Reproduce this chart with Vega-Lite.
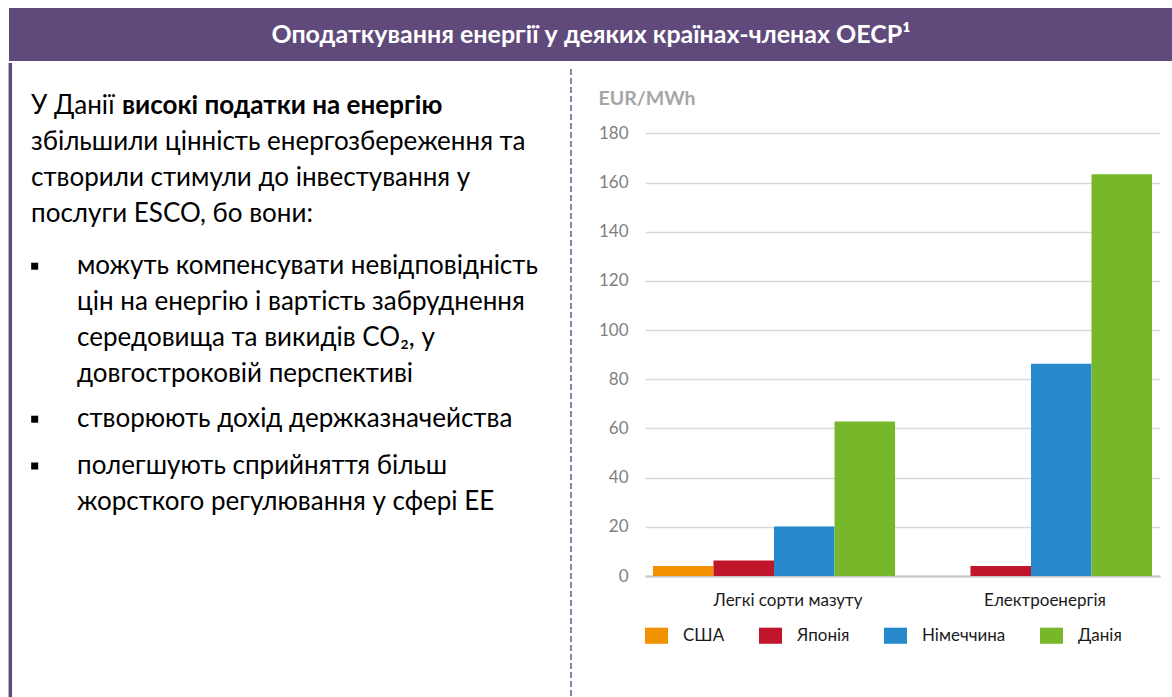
{
  "$schema": "https://vega.github.io/schema/vega-lite/v6.json",
  "padding": {"left": 8, "top": 8, "right": 0, "bottom": 0},
  "background": "white",
  "config": {"view": {"stroke": null}, "font": "Lato"},
  "spacing": 0,
  "resolve": {"legend": {"color": "independent"}, "scale": {"color": "independent"}},
  "vconcat": [
    {
      "width": 1164,
      "height": 53,
      "view": {"fill": "#604A7B", "stroke": null},
      "data": {"values": [{"title": "Оподаткування енергії у деяких країнах-членах ОЕСР¹"}]},
      "mark": {"type": "text", "color": "white", "fontWeight": "bold", "fontSize": 25, "font": "Lato", "baseline": "middle", "align": "center"},
      "encoding": {"text": {"field": "title"}}
    },
    {
      "spacing": 26,
      "resolve": {"legend": {"color": "independent"}, "scale": {"color": "independent"}},
      "hconcat": [
        {
          "width": 562,
          "height": 635,
          "data": {"values": [
            {"line": 0, "level": 0, "text": "У Данії", "emphasis": false, "bullet": false},
            {"line": 0, "level": 0, "text": "високі податки на енергію", "emphasis": true, "bullet": false},
            {"line": 1, "level": 0, "text": "збільшили цінність енергозбереження та", "emphasis": false, "bullet": false},
            {"line": 2, "level": 0, "text": "створили стимули до інвестування у", "emphasis": false, "bullet": false},
            {"line": 3, "level": 0, "text": "послуги ESCO, бо вони:", "emphasis": false, "bullet": false},
            {"line": 4.45, "level": 1, "text": "можуть компенсувати невідповідність", "emphasis": false, "bullet": true},
            {"line": 5.45, "level": 1, "text": "цін на енергію і вартість забруднення", "emphasis": false, "bullet": false},
            {"line": 6.45, "level": 1, "text": "середовища та викидів CO₂,  у", "emphasis": false, "bullet": false},
            {"line": 7.45, "level": 1, "text": "довгостроковій перспективі", "emphasis": false, "bullet": false},
            {"line": 8.7, "level": 1, "text": "створюють дохід держказначейства", "emphasis": false, "bullet": true},
            {"line": 10.0, "level": 1, "text": "полегшують сприйняття більш", "emphasis": false, "bullet": true},
            {"line": 11.0, "level": 1, "text": "жорсткого регулювання у сфері ЕЕ", "emphasis": false, "bullet": false}
          ]},
          "layer": [
            {
              "data": {"values": [{"edge": "left"}]},
              "mark": {"type": "rule", "color": "#604A7B", "strokeWidth": 3.5},
              "encoding": {
                "x": {"datum": -0.45, "type": "quantitative", "scale": {"domain": [-0.4783, 11.739], "nice": false, "zero": false}, "axis": null}
              }
            },
            {
              "data": {"values": [{"edge": "divider"}]},
              "mark": {"type": "rule", "color": "#8E7FAB", "strokeWidth": 2, "strokeDash": [6, 3]},
              "encoding": {
                "x": {"datum": 11.739, "type": "quantitative", "scale": {"domain": [-0.4783, 11.739], "nice": false, "zero": false}, "axis": null},
                "y": {"datum": -1.028, "type": "quantitative", "scale": {"domain": [-1.194, 16.444], "nice": false, "zero": false, "reverse": true}, "axis": null},
                "y2": {"datum": 16.444}
              }
            },
            {
              "transform": [{"filter": "datum.bullet"}],
              "mark": {"type": "point", "shape": "square", "size": 49, "filled": true, "color": "#000000", "opacity": 1},
              "encoding": {
                "x": {"datum": 0.08, "type": "quantitative", "scale": {"domain": [-0.4783, 11.739], "nice": false, "zero": false}, "axis": null},
                "y": {"field": "line", "type": "quantitative", "scale": {"domain": [-1.194, 16.444], "nice": false, "zero": false, "reverse": true}, "axis": null}
              }
            },
            {
              "transform": [{"filter": "!datum.emphasis"}],
              "mark": {"type": "text", "align": "left", "baseline": "middle", "fontSize": 26, "font": "Lato", "color": "#000000"},
              "encoding": {
                "x": {"field": "level", "type": "quantitative", "scale": {"domain": [-0.4783, 11.739], "nice": false, "zero": false}, "axis": null},
                "y": {"field": "line", "type": "quantitative", "scale": {"domain": [-1.194, 16.444], "nice": false, "zero": false, "reverse": true}, "axis": null},
                "text": {"field": "text"}
              }
            },
            {
              "transform": [{"filter": "datum.emphasis"}],
              "mark": {"type": "text", "align": "left", "baseline": "middle", "fontSize": 26, "font": "Lato", "fontWeight": "bold", "color": "#000000", "dx": 91},
              "encoding": {
                "x": {"field": "level", "type": "quantitative", "scale": {"domain": [-0.4783, 11.739], "nice": false, "zero": false}, "axis": null},
                "y": {"field": "line", "type": "quantitative", "scale": {"domain": [-1.194, 16.444], "nice": false, "zero": false, "reverse": true}, "axis": null},
                "text": {"field": "text"}
              }
            }
          ]
        },
        {
          "width": 515,
          "height": 513,
          "data": {"values": [
            {"category": "Легкі сорти мазуту", "country": "США", "value": 4.1},
            {"category": "Легкі сорти мазуту", "country": "Японія", "value": 6.3},
            {"category": "Легкі сорти мазуту", "country": "Німеччина", "value": 20.1},
            {"category": "Легкі сорти мазуту", "country": "Данія", "value": 62.8},
            {"category": "Електроенергія", "country": "США", "value": 0},
            {"category": "Електроенергія", "country": "Японія", "value": 4.1},
            {"category": "Електроенергія", "country": "Німеччина", "value": 86.3},
            {"category": "Електроенергія", "country": "Данія", "value": 163.4}
          ]},
          "mark": {"type": "bar"},
          "encoding": {
            "x": {
              "field": "category", "type": "nominal",
              "sort": ["Легкі сорти мазуту", "Електроенергія"],
              "scale": {"paddingInner": 0.058, "paddingOuter": 0.031},
              "axis": {"title": null, "labelAngle": 0, "labelFont": "Lato", "labelFontSize": 17, "labelColor": "#1a1a1a", "labelPadding": 16, "ticks": false, "domain": true, "domainColor": "#c6c6c6", "domainWidth": 2, "labelOffset": 14}
            },
            "xOffset": {
              "field": "country", "type": "nominal",
              "sort": ["США", "Японія", "Німеччина", "Данія"],
              "scale": {"paddingInner": 0, "paddingOuter": 0}
            },
            "y": {
              "field": "value", "type": "quantitative",
              "scale": {"domain": [0, 208.6], "nice": false},
              "axis": {
                "values": [0, 20, 40, 60, 80, 100, 120, 140, 160, 180],
                "title": "EUR/MWh", "titleAngle": 0, "titleAlign": "left", "titleBaseline": "middle",
                "titleX": -47, "titleY": 35, "titleFont": "Lato", "titleFontSize": 19.5, "titleFontWeight": "bold", "titleColor": "#a6a6a6",
                "labelFont": "Lato", "labelFontSize": 17, "labelColor": "#7f7f7f", "labelPadding": 17,
                "ticks": false, "domain": false, "grid": true, "gridColor": "#d9d9d9", "gridWidth": 1.5
              }
            },
            "color": {
              "field": "country", "type": "nominal",
              "sort": ["США", "Японія", "Німеччина", "Данія"],
              "scale": {"domain": ["США", "Японія", "Німеччина", "Данія"], "range": ["#F39200", "#C0152A", "#2789CB", "#77B82A"]},
              "legend": {
                "orient": "bottom", "direction": "horizontal", "title": null,
                "symbolType": "M-1,-0.7H1V0.7H-1Z", "symbolSize": 529, "symbolStrokeWidth": 0,
                "labelFont": "Lato", "labelFontSize": 17, "labelColor": "#1a1a1a", "labelOffset": 15,
                "columnPadding": 34, "offset": 16
              }
            }
          }
        }
      ]
    }
  ]
}
